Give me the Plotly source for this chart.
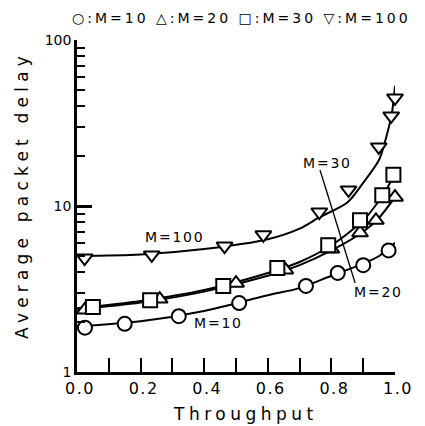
import plotly.graph_objects as go

# ---- data ----
# measured points (markers)
m10_x = [0.025, 0.15, 0.32, 0.51, 0.72, 0.82, 0.90, 0.98]
m10_y = [1.85, 1.95, 2.17, 2.6, 3.3, 3.95, 4.4, 5.4]
m20_x = [0.024, 0.26, 0.50, 0.655, 0.80, 0.89, 0.94, 1.0]
m20_y = [2.36, 2.75, 3.43, 4.12, 5.5, 6.9, 8.2, 11.3]
m30_x = [0.05, 0.23, 0.46, 0.63, 0.79, 0.89, 0.96, 0.995]
m30_y = [2.46, 2.71, 3.3, 4.23, 5.8, 8.2, 11.6, 15.4]
m100_x = [0.024, 0.235, 0.464, 0.586, 0.762, 0.854, 0.949, 0.988, 1.0]
m100_y = [4.86, 5.07, 5.74, 6.7, 9.2, 12.5, 22.7, 34.9, 44.8]

# analytical curves (read at several throughputs)
c10_x = [0, 0.2, 0.4, 0.6, 0.7, 0.8, 0.9, 0.95, 1.0]
c10_y = [1.88, 2.02, 2.33, 2.9, 3.2, 3.8, 4.5, 5.0, 6.0]
c20_x = [0, 0.2, 0.4, 0.6, 0.7, 0.8, 0.9, 0.95, 1.0]
c20_y = [2.38, 2.62, 3.05, 3.8, 4.4, 5.4, 7.0, 8.5, 11.3]
c30_x = [0, 0.2, 0.4, 0.6, 0.7, 0.8, 0.9, 0.95, 1.0]
c30_y = [2.42, 2.68, 3.12, 3.95, 4.6, 5.8, 8.2, 10.8, 15.5]
c100_x = [0, 0.2, 0.4, 0.6, 0.7, 0.76, 0.85, 0.9, 0.95, 0.97, 0.99, 1.0]
c100_y = [5.0, 5.1, 5.5, 6.3, 7.3, 8.5, 10.5, 13.8, 19.0, 25.0, 36.0, 53.0]

x_ticks = [0.0, 0.2, 0.4, 0.6, 0.8, 1.0]
x_minor = [0.1, 0.3, 0.5, 0.7, 0.9]
y_ticks = [1, 10, 100]
y_minor = [2, 3, 4, 5, 6, 7, 8, 9, 20, 30, 40, 50, 60, 70, 80, 90]

legend_text = "○:M=10 △:M=20 □:M=30 ▽:M=100"

FONT = "DejaVu Sans"

def spaced(t, s):
    return f'<span style="letter-spacing:{s}px">{t}</span>'

fig = go.Figure()
for cx, cy in [(c10_x, c10_y), (c20_x, c20_y), (c30_x, c30_y), (c100_x, c100_y)]:
    fig.add_trace(go.Scatter(x=cx, y=cy, mode="lines",
                             line=dict(color="black", width=2, shape="spline", smoothing=0.8),
                             cliponaxis=False, hoverinfo="skip"))

for mx, my, sym in [(m10_x, m10_y, "circle"), (m20_x, m20_y, "triangle-up"),
                    (m30_x, m30_y, "square"), (m100_x, m100_y, "triangle-down")]:
    fig.add_trace(go.Scatter(x=mx, y=my, mode="markers", cliponaxis=False,
                             marker=dict(symbol=sym, size=14, color="white",
                                         line=dict(color="black", width=2))))

# page body has an 8px margin; plot area in page pixels: x 77..412, y 40..372
def px2paper(px, py):
    return (px - 77) / 335, (372 - py) / 332

def label(txt, px, py, size, sp, angle=0):
    x, y = px2paper(px, py)
    return dict(text=spaced(txt, sp), x=x, y=y, xref="paper", yref="paper",
                xanchor="center", yanchor="middle", showarrow=False, textangle=angle,
                borderpad=0, font=dict(family=FONT, size=size, color="black"))

annots = [
    label("M=100", 180, 237, 14, 1.8),
    label("M=10", 226, 323, 14, 1.8),
    label("M=30", 341, 163, 14, 1.8),
    label("M=20", 395, 292, 14, 1.8),
    label(legend_text, 250, 18, 14, 3.0),
    label("Throughput", 254, 414, 17, 4.5),
    label("Average packet delay", 19, 195, 17, 5.2, angle=-90),
]

x0, y0 = px2paper(333, 170)
x1, y1 = px2paper(370, 283)
shapes = [dict(type="line", xref="paper", yref="paper", x0=x0, y0=y0, x1=x1, y1=y1,
               line=dict(color="black", width=1.3))]

fig.update_layout(
    width=417, height=418,
    margin=dict(l=69, r=13, t=32, b=54),
    plot_bgcolor="white", paper_bgcolor="white",
    showlegend=False,
    annotations=annots, shapes=shapes,
    xaxis=dict(range=[0, 1], tickvals=x_ticks, ticktext=[spaced(f"{v:.1f}", 1.5) for v in x_ticks],
               ticks="inside", ticklen=14, tickwidth=2, tickcolor="black",
               ticklabelshift=3, ticklabeloverflow="allow",
               showline=True, linewidth=2.5, linecolor="black", showgrid=False, zeroline=False,
               minor=dict(tickvals=x_minor, ticks="inside", ticklen=14,
                          tickwidth=2, tickcolor="black", showgrid=False),
               tickfont=dict(family=FONT, size=16, color="black")),
    yaxis=dict(type="log", range=[0, 2], tickvals=y_ticks, ticktext=[str(v) for v in y_ticks],
               ticks="inside", ticklen=15, tickwidth=2.5, tickcolor="black",
               showline=True, linewidth=2.5, linecolor="black", showgrid=False, zeroline=False,
               minor=dict(tickvals=y_minor, ticks="inside", ticklen=8, tickwidth=2,
                          tickcolor="black", showgrid=False),
               tickfont=dict(family=FONT, size=14, color="black")),
)

fig.write_html("out.html")
